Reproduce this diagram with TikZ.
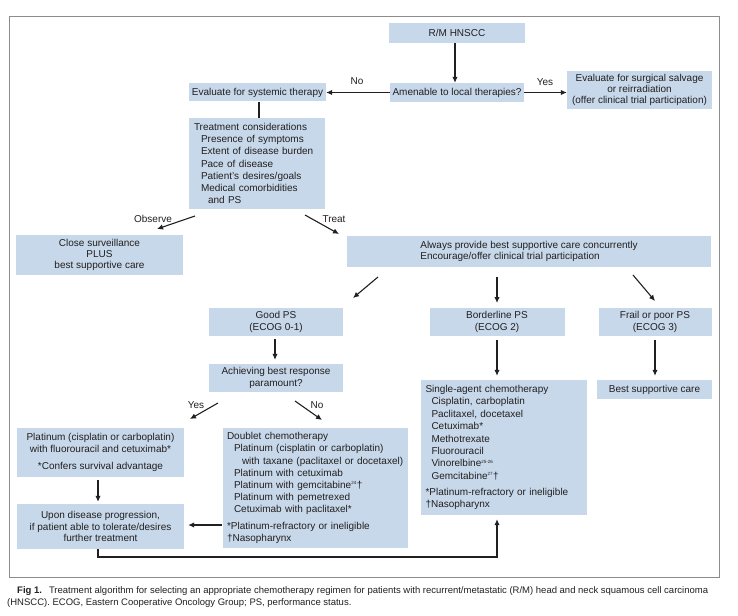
\documentclass[tikz,border=0pt]{standalone}
\usepackage{fontspec}
\setmainfont{Liberation Sans}
\usetikzlibrary{arrows.meta}
\definecolor{boxblue}{RGB}{198,216,233}
\definecolor{txt}{RGB}{35,31,32}
\definecolor{framegray}{RGB}{140,140,140}
\newcommand{\sups}[1]{\textsuperscript{\fontsize{4.5}{5}\selectfont #1}}
\begin{document}
\begin{tikzpicture}[x=1pt,y=-1pt,
  box/.style={fill=boxblue, draw=none, inner sep=0pt, text=txt,
    font=\fontsize{10}{11.6}\selectfont, align=center},
  lbox/.style={box, align=left, inner xsep=5pt},
  arr/.style={-{Latex[length=6pt,width=5.5pt]}, line width=1.1pt, draw=txt},
  plain/.style={line width=1.1pt, draw=txt},
  lbl/.style={font=\fontsize{10}{12}\selectfont, text=txt, inner sep=0pt}]
\useasboundingbox (0,0) rectangle (738,615);
\fill[white] (0,0) rectangle (738,615);
\draw[framegray, line width=0.8pt] (9,16) rectangle (719,577);

% boxes
\node[box, minimum width=136pt, minimum height=20pt] (rm) at (457,33) {R/M HNSCC};
\node[box, minimum width=134pt, minimum height=19pt] (amen) at (457,92.5) {Amenable to local therapies?};
\node[box, minimum width=137pt, minimum height=18pt] (evalsys) at (257.5,92.5) {Evaluate for systemic therapy};
\node[box, minimum width=145pt, minimum height=38pt, font=\fontsize{10}{10.6}\selectfont] (surg) at (639.5,90)
  {Evaluate for surgical salvage\\or reirradiation\\(offer clinical trial participation)};
\node[lbox, text width=126pt, minimum height=91pt, font=\fontsize{10}{12.2}\selectfont] (treat) at (257,163.5)
  {Treatment considerations\\
   \hspace*{7pt}Presence of symptoms\\
   \hspace*{7pt}Extent of disease burden\\
   \hspace*{7pt}Pace of disease\\
   \hspace*{7pt}Patient’s desires/goals\\
   \hspace*{7pt}Medical comorbidities\\
   \hspace*{14pt}and PS};
\node[box, minimum width=167pt, minimum height=40pt, font=\fontsize{10}{10.8}\selectfont] (close) at (99.5,255)
  {Close surveillance\\PLUS\\best supportive care};
\node[box, minimum width=364pt, minimum height=31pt, align=left] (always) at (529,251.5)
  {Always provide best supportive care concurrently\\Encourage/offer clinical trial participation};
\node[box, minimum width=134pt, minimum height=28pt] (good) at (276,322) {Good PS\\(ECOG 0-1)};
\node[box, minimum width=135pt, minimum height=28pt] (border) at (497,322) {Borderline PS\\(ECOG 2)};
\node[box, minimum width=113pt, minimum height=28pt] (frail) at (655,322) {Frail or poor PS\\(ECOG 3)};
\node[box, minimum width=134pt, minimum height=28pt] (achieve) at (276,378) {Achieving best response\\paramount?};
\node[lbox, text width=157pt, minimum height=135pt, inner xsep=4.5pt, font=\fontsize{10}{12.4}\selectfont] (single) at (504,447.5)
  {Single-agent chemotherapy\\
   \hspace*{6pt}Cisplatin, carboplatin\\
   \hspace*{6pt}Paclitaxel, docetaxel\\
   \hspace*{6pt}Cetuximab*\\
   \hspace*{6pt}Methotrexate\\
   \hspace*{6pt}Fluorouracil\\
   \hspace*{6pt}Vinorelbine\sups{25-26}\\
   \hspace*{6pt}Gemcitabine\sups{27}†\\[3.6pt]
   *Platinum-refractory or ineligible\\
   †Nasopharynx};
\node[box, minimum width=115pt, minimum height=19pt] (bsc) at (654.5,389.5) {Best supportive care};
\node[box, minimum width=167pt, minimum height=49pt] (plat) at (100.5,452.5)
  {Platinum (cisplatin or carboplatin)\\with fluorouracil and cetuximab*\\[5pt]*Confers survival advantage};
\node[lbox, text width=177pt, minimum height=120pt, inner xsep=4pt, font=\fontsize{10}{12.1}\selectfont] (doublet) at (315.5,488)
  {Doublet chemotherapy\\
   \hspace*{7pt}Platinum (cisplatin or carboplatin)\\
   \hspace*{15pt}\mbox{with taxane (paclitaxel or docetaxel)}\\
   \hspace*{7pt}Platinum with cetuximab\\
   \hspace*{7pt}Platinum with gemcitabine\sups{24}†\\
   \hspace*{7pt}Platinum with pemetrexed\\
   \hspace*{7pt}Cetuximab with paclitaxel*\\[4.6pt]
   *Platinum-refractory or ineligible\\
   †Nasopharynx};
\node[box, minimum width=167pt, minimum height=45pt] (upon) at (100.5,526.5)
  {Upon disease progression,\\if patient able to tolerate/desires\\further treatment};

% free arrow ends
\coordinate (obsA) at (195,216);
\coordinate (obsB) at (157,229);
\coordinate (trtA) at (305,215);
\coordinate (trtB) at (339,234);
\coordinate (alA) at (378,277);
\coordinate (alB) at (353,298);
\coordinate (amA) at (497,277);
\coordinate (amB) at (497,303);
\coordinate (arA) at (633,275);
\coordinate (arB) at (655,301);
\coordinate (yesA) at (218,403);
\coordinate (yesB) at (190,419);
\coordinate (noA) at (295,401);
\coordinate (noB) at (322,420);

% connectors
\draw[arr] (rm.south -| 455,0) -- (amen.north -| 455,0);
\draw[arr] (amen.west) -- (evalsys.east);
\draw[arr] (amen.east) -- (amen.east -| surg.west);
\draw[plain] (evalsys.south -| 259,0) -- (treat.north -| 259,0);
\draw[arr] (obsA) -- (obsB);
\draw[arr] (trtA) -- (trtB);
\draw[arr] (alA) -- (alB);
\draw[arr] (amA) -- (amB);
\draw[arr] (arA) -- (arB);
\draw[arr, shorten <=4pt, shorten >=4pt] (border.south) -- (border.south |- single.north);
\draw[arr, shorten <=4pt, shorten >=4pt] (frail.south) -- (frail.south |- bsc.north);
\draw[arr, shorten <=3pt, shorten >=4pt] (good.south -| 275,0) -- (achieve.north -| 275,0);
\draw[arr] (yesA) -- (yesB);
\draw[arr] (noA) -- (noB);
\draw[arr, shorten <=3pt, shorten >=2pt] (plat.south -| 98,0) -- (upon.north -| 98,0);
\draw[arr, shorten <=1pt, shorten >=4pt] (doublet.west |- 0,525) -- (upon.east |- 0,525);
\draw[arr, shorten >=4pt] (upon.south -| 98,0) -- (98,557) -| (single.south -| 497,0);

% labels
\node[lbl] (lno) at (357,81) {No};
\node[lbl] (lyes) at (545,82) {Yes};
\node[lbl] (lobs) at (153,219) {Observe};
\node[lbl] (ltrt) at (334,219) {Treat};
\node[lbl] (lyes2) at (196,405) {Yes};
\node[lbl] (lno2) at (317,405) {No};

% caption
\node[anchor=base west, inner sep=0pt, text=txt, font=\fontsize{9.5}{11}\selectfont] (cap1) at (17,593.5)
  {\textbf{Fig 1.}\hspace{7pt}Treatment algorithm for selecting an appropriate chemotherapy regimen for patients with recurrent/metastatic (R/M) head and neck squamous cell carcinoma};
\node[anchor=base west, inner sep=0pt, text=txt, font=\fontsize{9.5}{11}\selectfont] (cap2) at (7,605.5)
  {(HNSCC). ECOG, Eastern Cooperative Oncology Group; PS, performance status.};
\end{tikzpicture}
\end{document}
